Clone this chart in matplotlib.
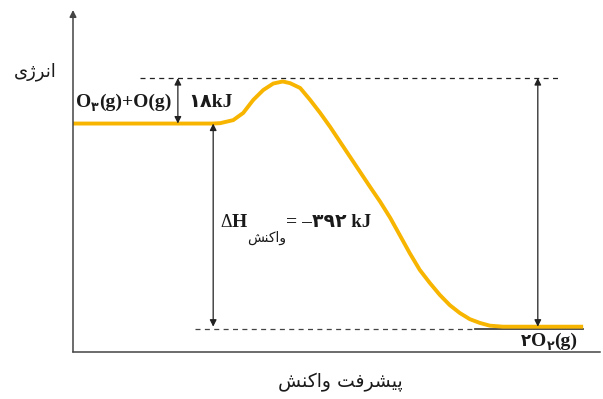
import matplotlib
matplotlib.use("Agg")
import matplotlib.pyplot as plt

# Reaction profile (progress 0-100, energy in arbitrary units 0-100)
progress = [0, 26.4, 27.9, 30.4, 32.3, 34.2, 36.1, 38.0, 39.8, 41.2, 43.1, 45.0, 46.9,
            48.8, 50.7, 52.6, 54.5, 56.4, 58.3, 60.2, 62.0, 63.9, 65.8, 67.7, 69.6,
            71.5, 73.4, 75.3, 77.2, 79.1, 81.6, 96.8]
energy = [66.8, 66.8, 66.9, 67.8, 69.9, 73.7, 76.6, 78.5, 79.1, 78.6, 77.2, 73.7, 69.9,
          65.8, 61.4, 57.0, 52.6, 48.2, 43.9, 39.2, 34.2, 28.9, 24.0, 20.2, 16.7,
          13.7, 11.4, 9.6, 8.5, 7.7, 7.4, 7.4]

E_react = 66.8
E_peak = 80.1
E_prod = 7.4

# Persian labels (Arabic presentation forms, visual order)
y_label = "\uFBFC\uFB8A\uFEAE\uFEE7\uFE8D"                 # انرژی
reaction = "\uFEB6\uFEE8\uFB90\uFE8D\uFEED"                # واکنش
progress_word = "\uFE96\uFED3\uFEAE\uFEB8\uFBFF\uFB58"     # پیشرفت
x_label = reaction + " " + progress_word

ea_text = "\u06F1\u06F8kJ"          # ۱۸kJ
dh_text = "\u06F3\u06F9\u06F2 kJ"   # ۳۹۲ kJ

serif = ["Liberation Serif", "DejaVu Sans"]
sans = ["DejaVu Sans"]
gold = "#F7B500"
ink = "#222222"

fig = plt.figure(figsize=(6.03, 3.99), dpi=100)
ax = fig.add_axes([73 / 603, 47 / 399, 527 / 603, 342 / 399])
ax.set_xlim(0, 100)
ax.set_ylim(0, 100)
ax.axis("off")

# axes with arrow
ax.annotate("", xy=(0, 100), xytext=(0, 0), annotation_clip=False,
            arrowprops=dict(arrowstyle="-|>", color="#444444", lw=1.1,
                            mutation_scale=10, shrinkA=0, shrinkB=0))
ax.plot([0, 100], [0, 0], color="#444444", lw=1.1, clip_on=False)

# reference lines
ax.plot([12.7, 92.0], [E_peak, E_peak], color=ink, lw=0.9, ls=(0, (4, 3.5)))
ax.plot([23.1, 76.3], [E_prod - 0.8, E_prod - 0.8], color="#444444", lw=0.9, ls=(0, (4, 3.5)))
ax.plot([76.3, 96.8], [E_prod - 0.8, E_prod - 0.8], color="#444444", lw=1.3)

# profile
ax.plot(progress, energy, color=gold, lw=2.8, solid_capstyle="butt", solid_joinstyle="round")

# double arrows
arrow = dict(arrowstyle="<|-|>", color=ink, lw=0.9, mutation_scale=10, shrinkA=0, shrinkB=0)
ax.annotate("", xy=(19.9, E_peak), xytext=(19.9, E_react), arrowprops=arrow)
ax.annotate("", xy=(26.6, E_react), xytext=(26.6, E_prod), arrowprops=arrow)
ax.annotate("", xy=(88.2, E_peak), xytext=(88.2, E_prod), arrowprops=arrow)

# text layer in pixel coordinates
lab = fig.add_axes([0, 0, 1, 1], zorder=3)
lab.set_xlim(0, 603)
lab.set_ylim(399, 0)
lab.axis("off")
renderer = fig.canvas.get_renderer()


def row(x, y, parts):
    for s, dy, size, fam, wt in parts:
        t = lab.text(x, y + dy, s, fontsize=size, family=fam, weight=wt,
                     ha="left", va="baseline", color="#1a1a1a")
        x += t.get_window_extent(renderer).width


lab.text(35, 72, y_label, fontsize=13, family=sans, ha="center", va="center", color="#1a1a1a")
lab.text(340, 382, x_label, fontsize=13.5, family=sans, ha="center", va="center", color="#1a1a1a")

row(76, 107, [("O", 0, 14, serif, "bold"),
              ("\u06F3", 4, 9, sans, "bold"),
              ("(g)+O(g)", 0, 14, serif, "bold")])
row(188, 107, [(ea_text, 0, 14, serif, "bold")])

row(220, 227, [("\u0394", 0, 13, serif, "normal"),
               ("H", 0, 14, serif, "bold"),
               (reaction, 15, 10, sans, "normal"),
               ("= \u2013", 0, 14, serif, "bold"),
               (dh_text, 0, 13.5, serif, "bold")])

row(521, 346, [("\u06F2", 0, 12, sans, "bold"),
               ("O", 0, 14, serif, "bold"),
               ("\u06F2", 4, 9, sans, "bold"),
               ("(g)", 0, 14, serif, "bold")])

fig.savefig("out.png", dpi=100)
